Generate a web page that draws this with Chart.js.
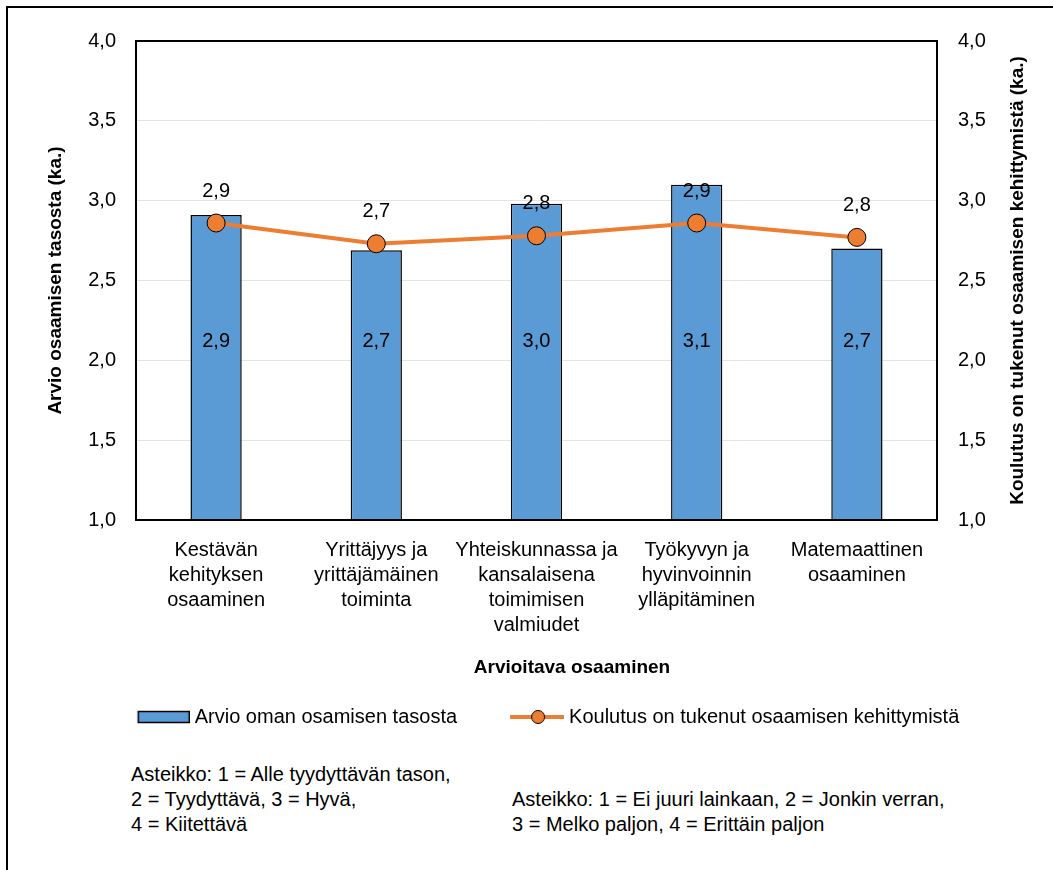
<!DOCTYPE html>
<html>
<head>
<meta charset="utf-8">
<script src="https://cdn.jsdelivr.net/npm/chart.js@4"></script>
<style>
  body { margin: 0; background: #fff; }
  #wrap { position: relative; width: 1053px; height: 870px; overflow: hidden; font-family: 'Liberation Sans', Arial, sans-serif; }
  #frame { position: absolute; left: 6px; top: 6px; width: 1100px; height: 900px; border-left: 2px solid #000; border-top: 2px solid #000; }
  canvas { position: absolute; left: 0; top: 0; }
  .note { position: absolute; font-size: 20px; line-height: 25px; color: #000; white-space: nowrap; }
</style>
</head>
<body>
<div id="wrap">
  <div id="frame"></div>
  <canvas id="myChart" width="1053" height="740"></canvas>
  <div class="note" style="left:131px; top:762px;">Asteikko: 1 = Alle tyydyttävän tason,<br>2 = Tyydyttävä, 3 = Hyvä,<br>4 = Kiitettävä</div>
  <div class="note" style="left:512px; top:787px;">Asteikko: 1 = Ei juuri lainkaan, 2 = Jonkin verran,<br>3 = Melko paljon, 4 = Erittäin paljon</div>
</div>
<script>
// data
const categories = [
  ['Kestävän', 'kehityksen', 'osaaminen'],
  ['Yrittäjyys ja', 'yrittäjämäinen', 'toiminta'],
  ['Yhteiskunnassa ja', 'kansalaisena', 'toimimisen', 'valmiudet'],
  ['Työkyvyn ja', 'hyvinvoinnin', 'ylläpitäminen'],
  ['Matemaattinen', 'osaaminen']
]
const ownLevel = [2.91, 2.69, 2.98, 3.10, 2.70]
const trainingSupport = [2.86, 2.73, 2.78, 2.86, 2.77]
const seriesNames = ['Arvio oman osamisen tasosta', 'Koulutus on tukenut osaamisen kehittymistä']
const yLeftTitle = 'Arvio osaamisen tasosta (ka.)'
const yRightTitle = 'Koulutus on tukenut osaamisen kehittymistä (ka.)'
const xTitle = 'Arvioitava osaaminen'

const BLUE = '#5B9BD5'
const ORANGE = '#ED7D31'
const FONT = "'Liberation Sans', Arial, sans-serif"

Chart.defaults.font.family = FONT
Chart.defaults.font.size = 20
Chart.defaults.color = '#000'

const fmt = v => v.toFixed(1).replace('.', ',')

// legend icons
function barIcon() {
  const c = document.createElement('canvas')
  c.width = 57; c.height = 14
  const g = c.getContext('2d')
  g.fillStyle = BLUE
  g.fillRect(5.5, 1.5, 51, 11)
  g.strokeStyle = '#000'
  g.lineWidth = 1.5
  g.strokeRect(5.5, 1.5, 51, 11)
  return c
}
function lineIcon() {
  const c = document.createElement('canvas')
  c.width = 57; c.height = 20
  const g = c.getContext('2d')
  g.strokeStyle = ORANGE
  g.lineWidth = 4
  g.beginPath(); g.moveTo(3, 10); g.lineTo(57, 10); g.stroke()
  g.beginPath(); g.arc(31, 10, 6.5, 0, Math.PI * 2)
  g.fillStyle = ORANGE; g.fill()
  g.lineWidth = 1; g.strokeStyle = '#000'; g.stroke()
  return c
}
const legendIcons = [barIcon(), lineIcon()]

const extras = {
  id: 'extras',
  afterDatasetsDraw(chart) {
    const ctx = chart.ctx
    // bar value labels sit on one row inside the bars
    const rowY = chart.scales.y.getPixelForValue(2.12)
    ctx.save()
    ctx.fillStyle = '#000'
    ctx.font = '20px ' + FONT
    ctx.textAlign = 'center'
    ctx.textBaseline = 'middle'
    chart.getDatasetMeta(0).data.forEach((bar, i) => {
      ctx.fillText(fmt(ownLevel[i]), bar.x, rowY)
    })
    chart.getDatasetMeta(1).data.forEach((pt, i) => {
      ctx.fillText(fmt(trainingSupport[i]), pt.x, pt.y - 32)
    })
    ctx.restore()
  },
  afterDraw(chart) {
    const ctx = chart.ctx
    const a = chart.chartArea
    ctx.save()
    ctx.strokeStyle = '#000'
    ctx.lineWidth = 2
    ctx.strokeRect(a.left, a.top, a.right - a.left, a.bottom - a.top)
    ctx.fillStyle = '#000'
    ctx.font = 'bold 19px ' + FONT
    ctx.textAlign = 'center'
    ctx.textBaseline = 'middle'
    ctx.fillText(xTitle, 572, 668)
    ctx.translate(1018, (a.top + a.bottom) / 2)
    ctx.rotate(-Math.PI / 2)
    ctx.fillText(yRightTitle, 0, 0)
    ctx.restore()
  }
}

const ctx = document.getElementById('myChart')
const myChart = new Chart(ctx, {
  data: {
    labels: categories,
    datasets: [{
      type: 'bar',
      label: seriesNames[0],
      data: ownLevel,
      backgroundColor: BLUE,
      borderColor: '#000',
      borderWidth: 1.5,
      barPercentage: 0.32,
      categoryPercentage: 1,
      yAxisID: 'y',
      order: 2
    }, {
      type: 'line',
      label: seriesNames[1],
      data: trainingSupport,
      borderColor: ORANGE,
      borderWidth: 4,
      pointRadius: 9,
      pointHoverRadius: 9,
      pointBackgroundColor: ORANGE,
      pointBorderColor: '#000',
      pointBorderWidth: 1,
      yAxisID: 'y1',
      order: 1
    }]
  },
  options: {
    responsive: false,
    animation: false,
    layout: { padding: { left: 44, top: 41, right: 0, bottom: 3 } },
    plugins: {
      tooltip: { enabled: false },
      legend: {
        position: 'bottom',
        labels: {
          usePointStyle: true,
          pointStyleWidth: 47,
          padding: 55,
          font: { size: 20 },
          generateLabels: chart => chart.data.datasets.map((ds, i) => ({
            text: ds.label,
            pointStyle: legendIcons[i],
            datasetIndex: i,
            hidden: false,
            lineWidth: 0,
            fillStyle: 'transparent',
            strokeStyle: 'transparent'
          }))
        }
      }
    },
    scales: {
      x: {
        grid: { display: false, drawTicks: false },
        border: { display: false },
        ticks: { padding: 18, maxRotation: 0, autoSkip: false, font: { size: 20, lineHeight: 1.25 } },
        afterFit: s => { s.height = 132 }
      },
      y: {
        position: 'left',
        min: 1, max: 4,
        grid: { color: '#e3e3e3', drawTicks: false },
        border: { display: false },
        ticks: { stepSize: 0.5, padding: 20, callback: v => fmt(v) },
        title: { display: true, text: yLeftTitle, font: { size: 19, weight: 'bold' }, padding: 0 },
        afterFit: s => { s.width = 92 }
      },
      y1: {
        position: 'right',
        min: 1, max: 4,
        grid: { drawOnChartArea: false, drawTicks: false },
        border: { display: false },
        ticks: { stepSize: 0.5, padding: 21, callback: v => fmt(v) },
        afterFit: s => { s.width = 116 }
      }
    }
  },
  plugins: [extras]
})
</script>
</body>
</html>
